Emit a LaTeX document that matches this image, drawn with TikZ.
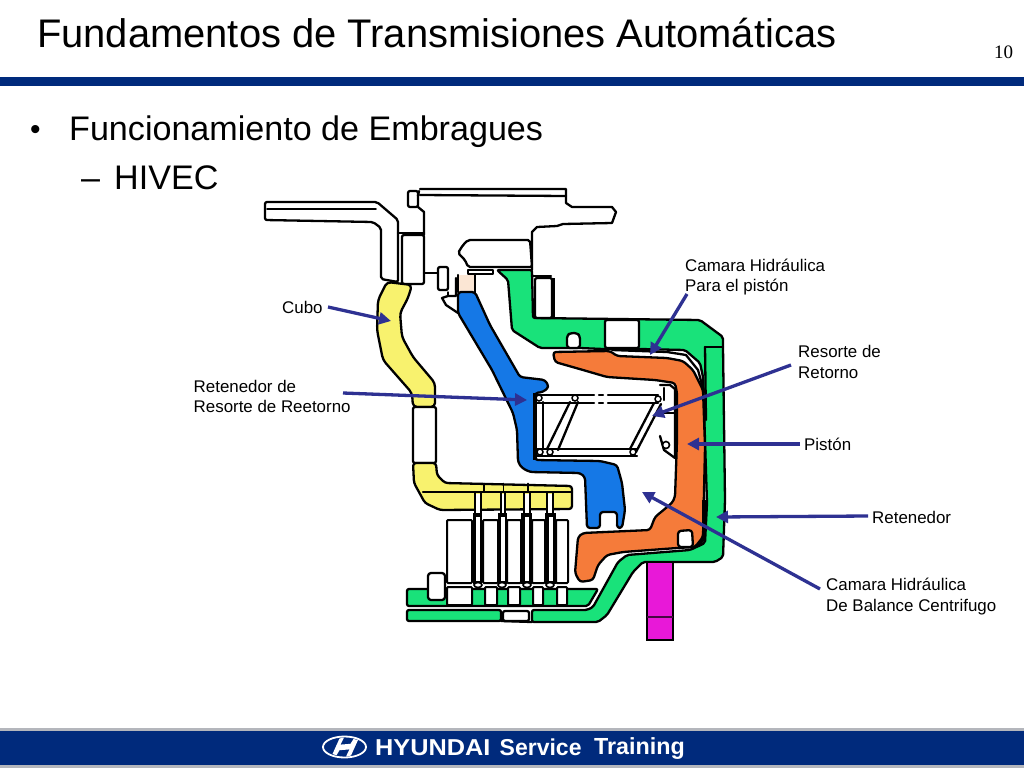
\documentclass[tikz,border=0pt]{standalone}
\usepackage{fontspec}
\setmainfont{Liberation Sans}
\newfontfamily\numfont{Liberation Serif}
\usetikzlibrary{arrows.meta}
\definecolor{navy}{HTML}{002A7C}
\definecolor{greyband}{HTML}{B4B6BC}
\definecolor{gparte}{HTML}{19E27A}
\definecolor{oparte}{HTML}{F57B3A}
\definecolor{bparte}{HTML}{1578E6}
\definecolor{yparte}{HTML}{F8F26E}
\definecolor{mparte}{HTML}{E818D8}
\definecolor{peach}{HTML}{FBE6D4}
\definecolor{pointer}{HTML}{2E3192}
\tikzset{
  part/.style={draw=black,line width=2.3pt,line join=round,rounded corners=2pt},
  ink/.style={draw=black,line width=2.3pt,line join=round,line cap=round},
  thick ink/.style={draw=black,line width=3.4pt,line cap=butt},
  callout/.style={draw=pointer,line width=3.3pt,-{Triangle[length=12pt,width=12pt]},shorten >=0pt},
  lab/.style={inner sep=0pt,align=left,anchor=base west,font=\fontsize{16.9}{20}\selectfont},
  deck/.style={inner sep=0pt,anchor=base west,text=black},
  platebox/.style={draw=black,line width=2pt,fill=white,rounded corners=1pt}
}
\begin{document}
\begin{tikzpicture}[x=1pt,y=-1pt]
\useasboundingbox (0,0) rectangle (1024,768);
\fill[white] (0,0) rectangle (1024,768);
% header
\fill[navy] (0,77) rectangle (1024,86);
\node[deck,font=\fontsize{39.9}{42}\selectfont] (title) at (37,48) {Fundamentos de Transmisiones Automáticas};
\node[deck,font=\fontsize{19}{20}\selectfont\numfont] (page) at (994,59) {10};
\node[deck,font=\fontsize{30}{36}\selectfont] (bul) at (30,139) {•};
\node[deck,font=\fontsize{34.1}{36}\selectfont] (b1) at (69,140) {Funcionamiento de Embragues};
\node[deck,font=\fontsize{34.1}{36}\selectfont] (dash) at (81,189) {–};
\node[deck,font=\fontsize{34.1}{36}\selectfont] (b2) at (114,189) {HIVEC};
% footer
\fill[greyband] (0,728) rectangle (1024,768);
\fill[navy] (0,731) rectangle (1024,765);
\begin{scope}[shift={(344.5,747)}]
  \draw[white,line width=1.8pt] (0,0) ellipse [x radius=21.5,y radius=10.5];
  \fill[white] (-12,7) -- (-5,-8.5) -- (-0.5,-9.5) -- (-4,-2.4) -- (6,-3.2) -- (9,-8) -- (13.5,-7) -- (6.5,8.5) -- (1.5,9.5) -- (5,2.4) -- (-5,3.2) -- (-8,8.3) -- cycle;
\end{scope}
\node[inner sep=0pt,anchor=base west,text=white,font=\fontsize{23}{24}\selectfont\bfseries] (brand) at (375,755) {\scalebox{1.1}[1]{HYUNDAI}};
\node[inner sep=0pt,anchor=base west,text=white,font=\fontsize{23}{24}\selectfont\bfseries] (serv) at (499.5,755.5) {Service};
\node[inner sep=0pt,anchor=base west,text=white,font=\fontsize{23.3}{24}\selectfont\bfseries] (train) at (594,754) {Training};

% upper casing
\draw[part,fill=white] (265,202) -- (377,202) -- (398,220) -- (398,282) -- (381,279) -- (381,228) -- (373,222) -- (265,220) -- cycle;
\draw[ink,line width=1.8pt] (267,209) -- (376,209);
\draw[part,fill=white] (402,235) rectangle (424,284);
\draw[ink] (418,207) -- (424,212) -- (424,235);
\draw[ink] (398,233) -- (424,233);
\draw[part,fill=white] (408,191) rectangle (418,207);
\draw[ink] (420,189) -- (566,189) -- (566,203) -- (572,207) -- (612,207) -- (616,212) -- (612,223) -- (563,224) -- (557,226) -- (537,227) -- (532,232) -- (532,270);
\draw[ink] (420,195) -- (566,196);
\draw[ink] (419,191) -- (418,196);
\draw[part,fill=white] (468,240) -- (530,240) -- (532,267) -- (468,267) -- (465,260) -- (458,253) -- (463,245) -- cycle;
\draw[ink,line width=1.5pt] (468,270) rectangle (493,274);
\draw[ink] (424,273) -- (438,273);
\draw[part,fill=white] (438,267) rectangle (448,290);
\draw[ink] (456,278) -- (456,296) -- (448,296) -- (442,298) -- (446,305) -- (458,313);
\draw[ink,line width=1.5pt] (448,292) -- (448,296);
\fill[peach] (458,275) rectangle (475,292);
\draw[ink] (458,275) -- (458,292);
\draw[ink] (475,275) -- (475,295);

% main green housing
\draw[part,fill=gparte] (497,270) -- (532,270) -- (533,318) -- (700,320) -- (723,337) -- (723,347) -- (725,500) -- (723,557) -- (715,562) -- (643,562) -- (633,572) -- (607,615) -- (598,622) -- (532,622) -- (532,610) -- (587,610) -- (593,607) -- (618,562) -- (627,555) -- (690,550) -- (705,543) -- (707,503) -- (703,377) -- (700,363) -- (685,350) -- (640,349) -- (603,349) -- (580,348) -- (540,348) -- (512,330) -- (508,280) -- cycle;
\draw[part,fill=white] (535,278) rectangle (552,318);
\draw[thick ink] (553,278) -- (553,318);
\draw[ink] (533,276) -- (551,276);
\draw[part,fill=white] (605,320) rectangle (639,348);
\draw[part,fill=white,rounded corners=3pt] (567,348) -- (567,335) -- (571,333) -- (577,333) -- (580,336) -- (580,348) -- cycle;
\draw[ink] (705,347) -- (723,347);
\draw[ink] (705,347) -- (706,420);
% piston chamber
\fill[white] (612,351) -- (670,354) -- (685,359) -- (692,368) -- (682,365) -- (667,359) -- (618,357) -- cycle;
\draw[ink] (612,350) -- (667,352) -- (686,355) -- (698,370) -- (704,392);

% bottom green strip and clutch seat
\draw[part,fill=gparte] (407,610) rectangle (501,621);
\draw[part,fill=white] (503,611) rectangle (529,621);
\draw[part,fill=gparte] (407,589) -- (598,589) -- (588,606) -- (407,606) -- cycle;
\draw[ink] (501,621) -- (532,622);
\draw[part,fill=white,rounded corners=3pt] (428,600) -- (428,573) -- (445,573) -- (445,600) -- cycle;
\foreach \nm/\xa/\xb in {a/447/472,b/485/497,c/508/520,d/533/543,e/557/567}{
  \draw[platebox] (\xa,587) rectangle (\xb,605);
}
% friction plates
\foreach \xa/\xb in {473/482,498/507,521/532,545/556}{
  \fill[black] (\xa,513) rectangle (\xb,584);
}
\foreach \xa/\xb in {476/479.5,501/504.5,525/528.5,549/552.5}{
  \fill[white] (\xa,517) rectangle (\xb,581);
}
\foreach \xa/\xb in {447/472,483/498,507/521,532/545,556/568}{
  \draw[platebox] (\xa,520) rectangle (\xb,583);
}
\foreach \cx in {478,502,527,550}{
  \draw[draw=black,line width=1.6pt,fill=white] (\cx,585) ellipse [x radius=4,y radius=2.5];
}

% hub yellow
\draw[part,fill=yparte,rounded corners=4pt] (387,282) -- (412,285) -- (408,298) -- (400,313) -- (402,337) -- (413,357) -- (435,383) -- (435,407) -- (413,407) -- (412,393) -- (383,360) -- (377,330) -- (378,300) -- cycle;
\draw[part,fill=white] (413,407) rectangle (436,463);
\draw[part,fill=yparte,rounded corners=3pt] (413,463) -- (436,463) -- (437,475) -- (445,483) -- (572,486) -- (572,509) -- (440,510) -- (425,503) -- (414,483) -- cycle;
\draw[ink] (423,492) -- (572,492);
\foreach \xa/\xb in {475/481,501/505,524/530,547/553}{
  \fill[white] (\xa,494) rectangle (\xb,511);
  \draw[thick ink,line width=2.4pt] (\xa,493) -- (\xa,513);
  \draw[thick ink,line width=2.4pt] (\xb,493) -- (\xb,513);
}
\foreach \xa in {484,503.5,528}{\draw[ink,line width=1.6pt] (\xa,483.5) -- (\xa,491);}

% orange piston
\draw[part,fill=oparte,rounded corners=3pt] (553,352) -- (610,351) -- (617,356) -- (667,358) -- (683,361) -- (693,370) -- (703,390) -- (705,447) -- (703,537) -- (695,547) -- (677,548) -- (623,552) -- (607,555) -- (598,565) -- (593,580) -- (580,582) -- (575,573) -- (578,537) -- (583,533) -- (650,530) -- (655,517) -- (672,503) -- (675,497) -- (677,440) -- (677,393) -- (675,383) -- (655,380) -- (607,377) -- (583,370) -- (555,362) -- cycle;
\draw[part,fill=white,rounded corners=3pt] (678,547) -- (678,531) -- (692,530) -- (693,547) -- cycle;
\draw[thick ink,line width=3.6pt] (704,500) -- (704,538) -- (698,546);

% blue retainer
\draw[part,draw=black,fill=bparte,rounded corners=3pt] (458,292) -- (475,292) -- (490,325) -- (520,377) -- (545,380) -- (549,387) -- (543,392) -- (535,393) -- (535,460) -- (600,461) -- (617,465) -- (622,483) -- (625,510) -- (622,528) -- (617,528) -- (617,512) -- (600,512) -- (600,528) -- (587,528) -- (585,477) -- (580,473) -- (530,472) -- (522,468) -- (518,462) -- (517,430) -- (513,413) -- (492,370) -- (458,313) -- cycle;
\draw[draw=white,line width=1pt,fill=white,rounded corners=2pt] (602,515) rectangle (615,526);

% return spring
\fill[white] (537,395) -- (660,395) -- (660,457) -- (537,457) -- cycle;
\draw[thick ink] (535,393) -- (535,460);
\draw[ink] (537,395) -- (590,395);
\draw[ink] (537,403) -- (590,403);
\draw[ink] (612,395) -- (658,395);
\draw[ink] (612,403) -- (658,403);
\draw[ink,dashed,dash pattern=on 4pt off 5pt] (590,395) -- (612,395);
\draw[ink,dashed,dash pattern=on 4pt off 5pt] (590,403) -- (612,403);
\draw[ink] (537,449) -- (637,449);
\draw[ink] (537,456) -- (637,456);
\draw[ink] (543,402) -- (543,449);
\draw[ink] (547,449) -- (570,402);
\draw[ink] (558,450) -- (578,402);
\draw[ink] (630,449) -- (654,403);
\draw[ink] (636,452) -- (661,404);
\foreach \cx/\cy in {539/398,575/398,658/399,540/452,550/452,633/452}{
  \draw[draw=black,line width=1.5pt,fill=white] (\cx,\cy) circle (3);
}
% retainer seat
\draw[ink] (660,385) -- (670,385) -- (675,389) -- (675,458);
\draw[ink] (664,388) -- (664,400);
\draw[ink] (662,413) -- (674,413);
\draw[ink] (660,436) -- (664,450) -- (675,458);
\draw[draw=black,line width=1.6pt,fill=white] (666,445) circle (3.5);

% magenta pin
\draw[draw=black,line width=1.8pt,fill=mparte] (647,562) rectangle (673,640);
\draw[draw=black!70!mparte,line width=1.8pt] (647,617) -- (673,617);

% labels
\node[lab] (lCubo) at (282,313) {Cubo};
\node[lab] (lRetA) at (193.5,392) {Retenedor de};
\node[lab] (lRetB) at (193.5,412) {Resorte de Reetorno};
\node[lab] (lCamA) at (685,271) {Camara Hidráulica};
\node[lab] (lCamB) at (685,291) {Para el pistón};
\node[lab] (lResA) at (798,357) {Resorte de};
\node[lab] (lResB) at (798,378) {Retorno};
\node[lab] (lPis) at (804,450) {Pistón};
\node[lab] (lRet) at (872,523) {Retenedor};
\node[lab] (lBalA) at (826,590) {Camara Hidráulica};
\node[lab] (lBalB) at (826,611) {De Balance Centrifugo};

% arrows
\coordinate (tCubo) at (328,307);   \coordinate (hCubo) at (391,321);
\coordinate (tRes) at (343,393);    \coordinate (hRes) at (527,400);
\coordinate (tCam) at (687,294);    \coordinate (hCam) at (650,355);
\coordinate (tRs) at (791,365);     \coordinate (hRs) at (652,416);
\coordinate (tPis) at (800,444);    \coordinate (hPis) at (687,444);
\coordinate (tRet) at (868,516);    \coordinate (hRet) at (716,517);
\coordinate (tBal) at (820,589);    \coordinate (hBal) at (642,492);
\foreach \a/\b in {tCubo/hCubo,tRes/hRes,tCam/hCam,tRs/hRs,tPis/hPis,tRet/hRet,tBal/hBal}{
  \draw[callout] (\a) -- (\b);
}
\end{tikzpicture}
\end{document}
